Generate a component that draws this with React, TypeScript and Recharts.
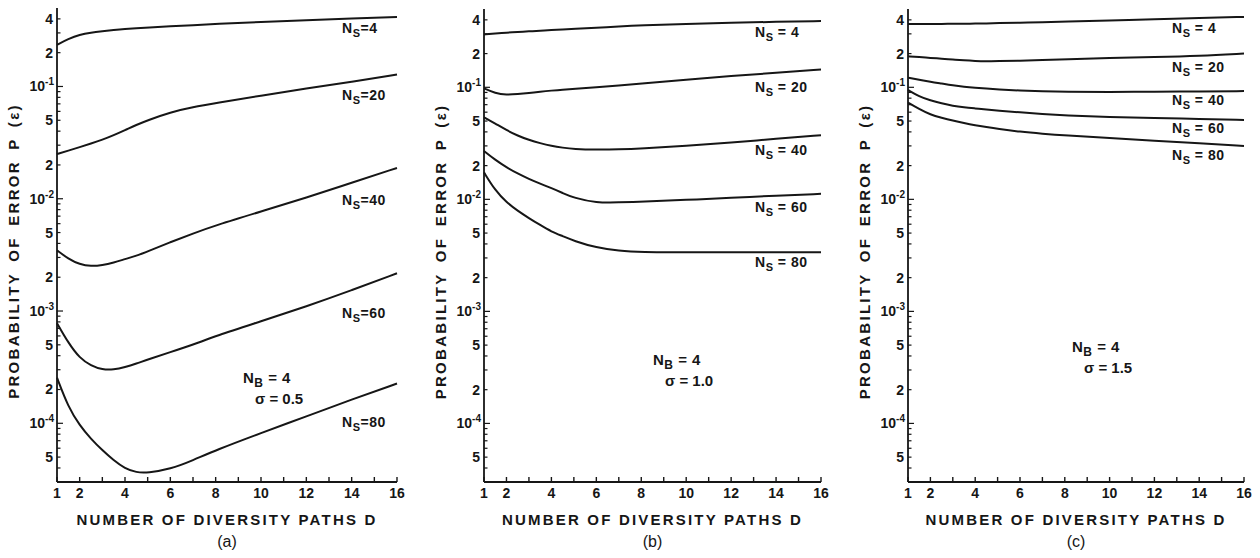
import { LineChart, Line, XAxis, YAxis } from "recharts";

// number of diversity paths D (sample points)
const D = [1, 1.5, 2, 2.5, 3, 3.5, 4, 4.5, 5, 6, 7, 8, 10, 12, 14, 16];

// (a) sigma = 0.5
const a4 = [0.235, 0.265, 0.29, 0.302, 0.31, 0.318, 0.325, 0.33, 0.335, 0.343, 0.352, 0.36, 0.375, 0.39, 0.403, 0.416];
const a20 = [0.025, 0.0268, 0.0288, 0.031, 0.0335, 0.0368, 0.0408, 0.0455, 0.05, 0.059, 0.0655, 0.071, 0.083, 0.096, 0.11, 0.128];
const a40 = [0.00347, 0.00292, 0.0026, 0.0025, 0.00256, 0.0027, 0.0029, 0.0031, 0.0034, 0.0041, 0.0049, 0.0058, 0.0077, 0.0102, 0.0139, 0.0188];
const a60 = [0.00078, 0.00052, 0.00038, 0.000326, 0.0003, 0.0003, 0.000316, 0.00034, 0.00037, 0.00043, 0.0005, 0.0006, 0.00081, 0.0011, 0.00153, 0.00217];
const a80 = [0.000255, 0.000139, 0.000096, 0.0000725, 0.0000576, 0.0000468, 0.0000395, 0.0000365, 0.0000362, 0.000039, 0.0000468, 0.0000576, 0.000082, 0.000115, 0.000163, 0.000226];

// (b) sigma = 1.0
const b4 = [0.296, 0.302, 0.308, 0.312, 0.316, 0.32, 0.325, 0.328, 0.332, 0.34, 0.35, 0.358, 0.368, 0.377, 0.384, 0.39];
const b20 = [0.098, 0.0885, 0.0856, 0.087, 0.089, 0.0915, 0.0935, 0.095, 0.097, 0.1, 0.104, 0.108, 0.117, 0.126, 0.135, 0.144];
const b40 = [0.054, 0.0475, 0.0415, 0.037, 0.0339, 0.0317, 0.03, 0.0289, 0.0281, 0.0277, 0.0279, 0.0284, 0.03, 0.032, 0.0348, 0.0373];
const b60 = [0.027, 0.0225, 0.0193, 0.017, 0.0152, 0.0138, 0.0126, 0.0114, 0.0103, 0.0093, 0.0094, 0.0095, 0.0099, 0.0103, 0.0108, 0.0112];
const b80 = [0.0174, 0.012, 0.0094, 0.0079, 0.0068, 0.0059, 0.00515, 0.0047, 0.00426, 0.0037, 0.00347, 0.00338, 0.00337, 0.00337, 0.00337, 0.00337];

// (c) sigma = 1.5
const c4 = [0.367, 0.367, 0.368, 0.368, 0.369, 0.37, 0.37, 0.372, 0.374, 0.377, 0.381, 0.385, 0.395, 0.405, 0.415, 0.425];
const c20 = [0.189, 0.186, 0.183, 0.18, 0.177, 0.174, 0.172, 0.171, 0.171, 0.173, 0.175, 0.178, 0.183, 0.186, 0.19, 0.2];
const c40 = [0.122, 0.117, 0.112, 0.108, 0.104, 0.101, 0.099, 0.0975, 0.096, 0.0935, 0.092, 0.091, 0.091, 0.0912, 0.0918, 0.0925];
const c60 = [0.0947, 0.0827, 0.0763, 0.0718, 0.0684, 0.0663, 0.0648, 0.0633, 0.062, 0.0598, 0.0578, 0.0562, 0.0543, 0.0533, 0.0522, 0.0511];
const c80 = [0.0732, 0.064, 0.057, 0.0535, 0.0505, 0.048, 0.0459, 0.0442, 0.0426, 0.0401, 0.0385, 0.0372, 0.0352, 0.0334, 0.0317, 0.03];

const nsValues = [4, 20, 40, 60, 80];
const seriesKeys = ["ns4", "ns20", "ns40", "ns60", "ns80"];

const xTicks = [1, 2, 3, 4, 5, 6, 7, 8, 9, 10, 11, 12, 13, 14, 15, 16];
const xTickLabels = [1, 2, 4, 6, 8, 10, 12, 14, 16];
const yLabelled = [0.4, 0.2, 0.1, 0.05, 0.02, 0.01, 0.005, 0.002, 0.001, 5e-4, 2e-4, 1e-4, 5e-5];
const yDomain = [3e-5, 0.5];

// every 1..9 x decade inside the domain (minor ticks on both sides)
const yTicks: number[] = [];
for (let e = -5; e <= -1; e++) {
  for (let m = 1; m <= 9; m++) {
    const v = Number((m * Math.pow(10, e)).toPrecision(3));
    if (v > yDomain[0] * 1.05 && v < yDomain[1] * 0.98) yTicks.push(v);
  }
}

const buildRows = (s: number[][]) =>
  D.map((d, i) => {
    const row: Record<string, number> = { D: d };
    seriesKeys.forEach((k, j) => (row[k] = s[j][i]));
    return row;
  });

const FONT = "'Liberation Sans', Arial, sans-serif";
const INK = "#161616";

const splitLog = (v: number) => {
  const e = Math.floor(Math.log10(v) + 1e-9);
  const m = Math.round(v / Math.pow(10, e));
  return { e, m };
};

function XTick(props: any) {
  const { x, y, payload } = props;
  const v = payload.value;
  return (
    <g>
      <line x1={x} x2={x} y1={y} y2={y - 5} stroke={INK} strokeWidth={1.4} />
      {xTickLabels.includes(v) && (
        <text x={x} y={y + 16} textAnchor="middle" fontSize={14} fontWeight="bold" fontFamily={FONT} fill={INK}>
          {v}
        </text>
      )}
    </g>
  );
}

function LeftTick(props: any) {
  const { x, y, payload } = props;
  const v = payload.value;
  const { e, m } = splitLog(v);
  const labelled = yLabelled.some((t) => Math.abs(t - v) / t < 1e-6);
  return (
    <g>
      <line x1={x} x2={x + (m === 1 ? 6 : 3.5)} y1={y} y2={y} stroke={INK} strokeWidth={1.2} />
      {labelled && m === 1 && (
        <text x={x - 3} y={y + 5} textAnchor="end" fontSize={14} fontWeight="bold" fontFamily={FONT} fill={INK}>
          <tspan>10</tspan>
          <tspan dy={-6} fontSize={10}>{e}</tspan>
        </text>
      )}
      {labelled && m !== 1 && (
        <text x={x - 4} y={y + 5} textAnchor="end" fontSize={14} fontWeight="bold" fontFamily={FONT} fill={INK}>
          {m}
        </text>
      )}
    </g>
  );
}

function RightTick(props: any) {
  const { x, y, payload } = props;
  const { m } = splitLog(payload.value);
  return <line x1={x} x2={x - (m === 1 ? 7 : 4)} y1={y} y2={y} stroke={INK} strokeWidth={1.2} />;
}

function NLabel({ x, y, sub, rest, size = 14 }: { x: number; y: number; sub: string; rest: string; size?: number }) {
  return (
    <text x={x} y={y} fontSize={size} fontWeight="bold" fontFamily={FONT} fill={INK} letterSpacing={0.5}>
      <tspan>N</tspan>
      <tspan dy={4} fontSize={size - 3}>{sub}</tspan>
      <tspan dy={-4}>{rest}</tspan>
    </text>
  );
}

type PanelProps = {
  rows: Record<string, number>[];
  tag: string;
  sigma: string;
  left: number;
  plotLeft: number;
  plotRight: number;
  top: number;
  nsX: number;
  nsY: number[];
  eq: string;
  nbX: number;
  nbY: number;
};

const PLOT_BOTTOM = 482;
const HEIGHT = 558;
const Y_AXIS_W = 40;
const X_AXIS_H = 30;

function Panel(p: PanelProps) {
  const marginLeft = p.plotLeft - p.left - Y_AXIS_W;
  const width = Math.min(p.plotRight - p.left + 20, 1260 - p.left);
  const marginRight = width - (p.plotRight - p.left);
  const cx = p.plotLeft - p.left + (p.plotRight - p.plotLeft) / 2;
  const cy = (p.top + PLOT_BOTTOM) / 2 + 6;
  const ylx = p.plotLeft - p.left - 38;
  return (
    <div style={{ position: "absolute", left: p.left, top: 0 }}>
      <LineChart
        width={width}
        height={HEIGHT}
        data={p.rows}
        margin={{ top: p.top, right: marginRight, left: marginLeft, bottom: HEIGHT - PLOT_BOTTOM - X_AXIS_H }}
      >
        <XAxis
          dataKey="D"
          type="number"
          domain={[1, 16]}
          ticks={xTicks}
          interval={0}
          height={X_AXIS_H}
          tickSize={0}
          tickMargin={0}
          tickLine={false}
          tick={(t: any) => <XTick {...t} />}
          axisLine={{ stroke: INK, strokeWidth: 1.8 }}
        />
        <XAxis
          xAxisId="top"
          orientation="top"
          dataKey="D"
          type="number"
          domain={[1, 16]}
          height={0}
          tick={false}
          tickLine={false}
          axisLine={{ stroke: INK, strokeWidth: 1.8 }}
        />
        <YAxis
          type="number"
          scale="log"
          domain={yDomain}
          allowDataOverflow
          ticks={yTicks}
          interval={0}
          width={Y_AXIS_W}
          tickSize={0}
          tickMargin={0}
          tickLine={false}
          tick={(t: any) => <LeftTick {...t} />}
          axisLine={{ stroke: INK, strokeWidth: 1.8 }}
        />
        <YAxis
          yAxisId="right"
          orientation="right"
          type="number"
          scale="log"
          domain={yDomain}
          allowDataOverflow
          ticks={yTicks}
          interval={0}
          width={0}
          tickSize={0}
          tickMargin={0}
          tickLine={false}
          tick={(t: any) => <RightTick {...t} />}
          axisLine={{ stroke: INK, strokeWidth: 1.8 }}
        />
        {seriesKeys.map((k) => (
          <Line
            key={k}
            type="basis"
            dataKey={k}
            stroke={INK}
            strokeWidth={2}
            dot={false}
            isAnimationActive={false}
          />
        ))}

        {nsValues.map((n, i) => (
          <NLabel key={n} x={p.nsX - p.left} y={p.nsY[i]} sub="S" rest={`${p.eq}${n}`} />
        ))}
        <NLabel x={p.nbX - p.left} y={p.nbY} sub="B" rest=" = 4" size={15} />
        <text x={p.nbX - p.left + 12} y={p.nbY + 21} fontSize={15} fontWeight="bold" fontFamily={FONT} fill={INK}>
          σ = {p.sigma}
        </text>

        <text
          x={cx}
          y={PLOT_BOTTOM + 43}
          textAnchor="middle"
          fontSize={15}
          fontWeight="bold"
          fontFamily={FONT}
          fill={INK}
          letterSpacing={2.2}
        >
          NUMBER OF DIVERSITY PATHS D
        </text>
        <text x={cx} y={PLOT_BOTTOM + 65} textAnchor="middle" fontSize={16} fontFamily={FONT} fill={INK}>
          ({p.tag})
        </text>
        <text
          x={ylx}
          y={cy}
          transform={`rotate(-90 ${ylx} ${cy})`}
          textAnchor="middle"
          fontSize={15}
          fontWeight="bold"
          fontFamily={FONT}
          fill={INK}
          letterSpacing={2.3}
          wordSpacing={4}
        >
          PROBABILITY OF ERROR P (ε)
        </text>
      </LineChart>
    </div>
  );
}

const rowsA = buildRows([a4, a20, a40, a60, a80]);
const rowsB = buildRows([b4, b20, b40, b60, b80]);
const rowsC = buildRows([c4, c20, c40, c60, c80]);

export default function App() {
  return (
    <div style={{ position: "absolute", left: 0, top: 0, width: 1260, height: 558, background: "#fff" }}>
      <Panel rows={rowsA} tag="a" sigma="0.5" left={0} plotLeft={57} plotRight={397} top={8}
        nsX={342} nsY={[33, 100, 205, 318, 427]} eq="=" nbX={243} nbY={383} />
      <Panel rows={rowsB} tag="b" sigma="1.0" left={427} plotLeft={484} plotRight={821} top={9}
        nsX={755} nsY={[37, 92, 155, 212, 267]} eq=" = " nbX={653} nbY={365} />
      <Panel rows={rowsC} tag="c" sigma="1.5" left={851} plotLeft={908} plotRight={1244} top={9}
        nsX={1172} nsY={[33, 72, 105, 133, 160]} eq=" = " nbX={1072} nbY={352} />
    </div>
  );
}
